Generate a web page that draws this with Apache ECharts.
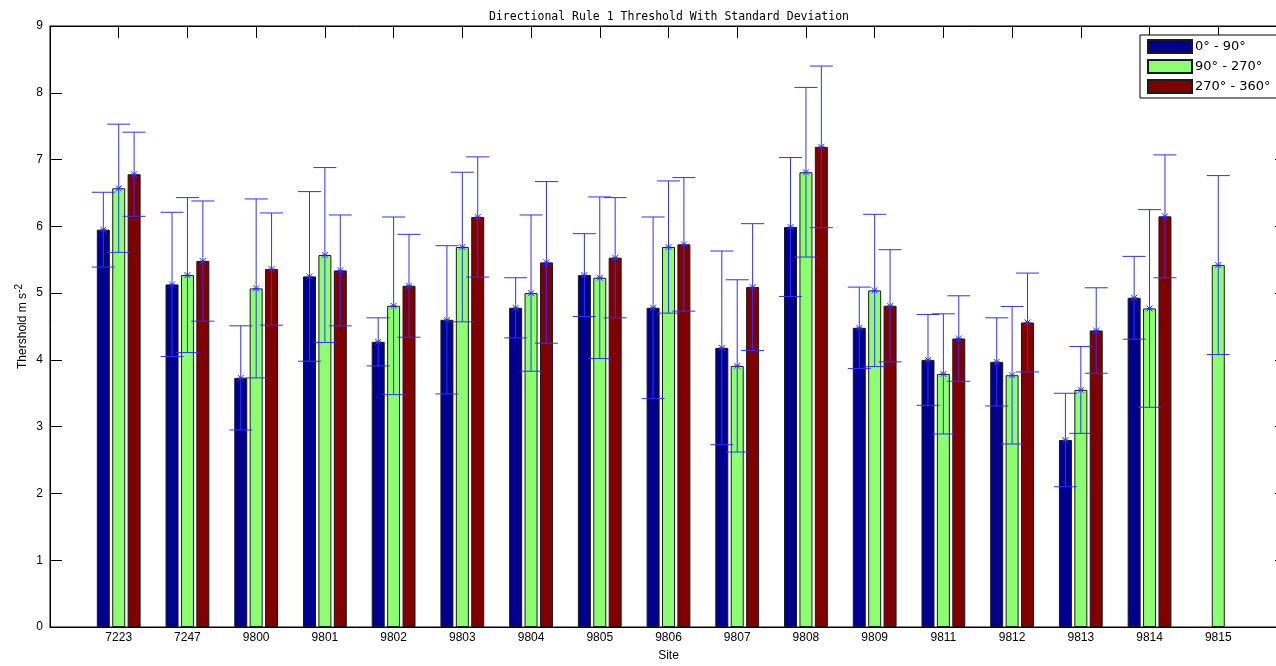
<!DOCTYPE html>
<html>
<head>
<meta charset="utf-8">
<script src="https://cdn.jsdelivr.net/npm/echarts@6/dist/echarts.min.js"></script>
<style>html,body{margin:0;padding:0;background:#fff;}#c{width:1276px;height:666px;}</style>
</head>
<body>
<div id="c"></div>
<script>
// ---- data ----
const sites = ['7223','7247','9800','9801','9802','9803','9804','9805','9806','9807','9808','9809','9811','9812','9813','9814','9815'];
const seriesNames = ['0° - 90°', '90° - 270°', '270° - 360°'];
const mean0_90    = [5.95, 5.13, 3.73, 5.25, 4.27, 4.60, 4.78, 5.27, 4.78, 4.18, 5.99, 4.48, 4.00, 3.97, 2.80, 4.93, null];
const std0_90     = [0.56, 1.08, 0.78, 1.27, 0.36, 1.11, 0.45, 0.62, 1.36, 1.45, 1.04, 0.61, 0.68, 0.66, 0.70, 0.62, null];
const mean90_270  = [6.57, 5.27, 5.07, 5.57, 4.81, 5.69, 5.00, 5.23, 5.69, 3.91, 6.81, 5.04, 3.79, 3.77, 3.55, 4.77, 5.42];
const std90_270   = [0.96, 1.16, 1.34, 1.31, 1.33, 1.12, 1.17, 1.21, 0.99, 1.29, 1.27, 1.14, 0.90, 1.03, 0.65, 1.48, 1.34];
const mean270_360 = [6.78, 5.48, 5.36, 5.34, 5.11, 6.14, 5.46, 5.53, 5.73, 5.09, 7.19, 4.81, 4.32, 4.56, 4.44, 6.15, null];
const std270_360  = [0.63, 0.90, 0.84, 0.83, 0.77, 0.90, 1.21, 0.90, 1.00, 0.95, 1.21, 0.84, 0.64, 0.74, 0.64, 0.92, null];
const yTicks = [0,1,2,3,4,5,6,7,8,9];

// ---- styling ----
const colors = ['#00008F', '#8CFF70', '#800000'];
const BAR_W = 13, GAP = 2.4, CAP = 23, ERR_COLOR = '#3030ff';
// category axis with blank padding slots (MATLAB xlim [0, n+1])
const cats = [' '].concat(sites).concat(['  ']);

const means = [mean0_90, mean90_270, mean270_360];
const stds = [std0_90, std90_270, std270_360];

function errSeries(si) {
  const off = (si - 1) * (BAR_W + GAP);
  const data = [];
  sites.forEach((s, i) => { if (means[si][i] != null) data.push([s, means[si][i], stds[si][i]]); });
  return {
    type: 'custom', z: 5, silent: true,
    xAxisIndex: 0, yAxisIndex: 0,
    encode: { x: 0, y: 1 },
    data: data,
    renderItem: function (params, api) {
      const x = api.value(0), m = api.value(1), sd = api.value(2);
      const c = api.coord([x, m]);
      const t = api.coord([x, m + sd]);
      const b = api.coord([x, m - sd]);
      const cx = c[0] + off;
      const st = { stroke: ERR_COLOR, lineWidth: 1 };
      const r = 3;
      return {
        type: 'group',
        children: [
          { type: 'line', shape: { x1: cx, y1: t[1], x2: cx, y2: b[1] }, style: st },
          { type: 'line', shape: { x1: cx - CAP / 2, y1: t[1], x2: cx + CAP / 2, y2: t[1] }, style: st },
          { type: 'line', shape: { x1: cx - CAP / 2, y1: b[1], x2: cx + CAP / 2, y2: b[1] }, style: st },
          { type: 'line', shape: { x1: cx - r, y1: c[1], x2: cx + r, y2: c[1] }, style: st },
          { type: 'line', shape: { x1: cx - r, y1: c[1] - r, x2: cx + r, y2: c[1] + r }, style: st },
          { type: 'line', shape: { x1: cx - r, y1: c[1] + r, x2: cx + r, y2: c[1] - r }, style: st }
        ]
      };
    }
  };
}

const barSeries = [0, 1, 2].map(si => ({
  name: seriesNames[si],
  type: 'bar',
  xAxisIndex: 0, yAxisIndex: 0,
  barWidth: BAR_W,
  barGap: (GAP / BAR_W * 100) + '%',
  data: sites.map((s, i) => [s, means[si][i]]),
  itemStyle: { color: colors[si], borderColor: '#1a1a1a', borderWidth: 1 },
  z: 2
}));

const font = 'Liberation Sans, Arial, sans-serif';
const option = {
  animation: false,
  backgroundColor: '#fff',
  title: {
    text: 'Directional Rule 1 Threshold With Standard Deviation',
    left: 484, top: 6,
    textStyle: { fontFamily: 'DejaVu Sans Mono', fontSize: 11.5, fontWeight: 'normal', color: '#000' }
  },
  legend: {
    orient: 'vertical', left: 1140, top: 35,
    data: seriesNames,
    itemWidth: 44, itemHeight: 13, itemGap: 5,
    padding: [4, 40, 4, 7],
    borderColor: '#000', borderWidth: 1, backgroundColor: '#fff',
    icon: 'rect',
    textStyle: { fontFamily: 'DejaVu Sans', fontSize: 13, color: '#000', lineHeight: 13, padding: [0, 0, 0, -2] }
  },
  grid: { left: 50, top: 26, bottom: 39, right: -11, containLabel: false, outerBoundsMode: 'none',
          show: true, borderColor: '#000', borderWidth: 1, backgroundColor: 'transparent' },
  xAxis: [{
    type: 'category', data: cats, boundaryGap: false, position: 'bottom',
    name: 'Site', nameLocation: 'middle', nameGap: 23, nameMoveOverlap: false,
    nameTextStyle: { fontFamily: font, fontSize: 12, color: '#000' },
    axisLine: { onZero: false, lineStyle: { color: '#000', width: 1 } },
    axisTick: { show: true, inside: true, length: 12, interval: 0, lineStyle: { color: '#000' } },
    axisLabel: { fontFamily: font, fontSize: 12, color: '#000', margin: 5, interval: 0 },
    splitLine: { show: false }
  }, {
    type: 'category', data: cats, boundaryGap: false, position: 'top',
    axisLine: { show: true, onZero: false, lineStyle: { color: '#000', width: 1 } },
    axisTick: { show: true, inside: true, length: 12, interval: 0, lineStyle: { color: '#000' } },
    axisLabel: { show: false },
    splitLine: { show: false }
  }],
  yAxis: [{
    type: 'value', min: yTicks[0], max: yTicks[yTicks.length - 1], interval: 1, position: 'left',
    name: 'Thershold m s{sup|-2}', nameLocation: 'middle', nameGap: 18, nameRotate: 90, nameMoveOverlap: false,
    nameTextStyle: { fontFamily: font, fontSize: 12, color: '#000', rich: { sup: { fontFamily: font, fontSize: 10, color: '#000', verticalAlign: 'top', padding: [0, 0, 8, 0] } } },
    axisLine: { show: true, onZero: false, lineStyle: { color: '#000', width: 1 } },
    axisTick: { show: true, inside: true, length: 12, lineStyle: { color: '#000' } },
    axisLabel: { fontFamily: font, fontSize: 12, color: '#000', margin: 7 },
    splitLine: { show: false }
  }, {
    type: 'value', min: yTicks[0], max: yTicks[yTicks.length - 1], interval: 1, position: 'right',
    axisLine: { show: true, onZero: false, lineStyle: { color: '#000', width: 1 } },
    axisTick: { show: true, inside: true, length: 12, lineStyle: { color: '#000' } },
    axisLabel: { show: false },
    splitLine: { show: false }
  }],
  series: barSeries.concat([errSeries(0), errSeries(1), errSeries(2)])
};

const chart = echarts.init(document.getElementById('c'), null, { renderer: 'canvas' });
chart.setOption(option);
</script>
</body>
</html>
